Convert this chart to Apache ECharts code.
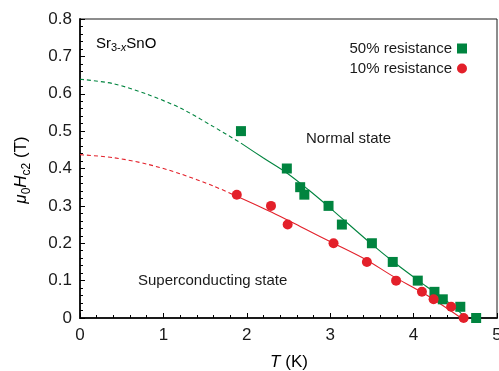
<!DOCTYPE html>
<html>
<head>
<meta charset="utf-8">
<script src="https://cdn.jsdelivr.net/npm/echarts@6/dist/echarts.min.js"></script>
<style>
html,body{margin:0;padding:0;background:#fff;}
#c{width:499px;height:371px;}
</style>
</head>
<body>
<div id="c"></div>
<script>
// Measured data (T in K, mu0Hc2 in T)
const T50 = [1.93, 2.48, 2.64, 2.69, 2.98, 3.14, 3.50, 3.75, 4.05, 4.25, 4.35, 4.56, 4.75];
const H50 = [0.50, 0.40, 0.35, 0.33, 0.30, 0.25, 0.20, 0.15, 0.10, 0.07, 0.05, 0.03, 0.00];
const T10 = [1.88, 2.29, 2.49, 3.04, 3.44, 3.79, 4.10, 4.24, 4.45, 4.60];
const H10 = [0.33, 0.30, 0.25, 0.20, 0.15, 0.10, 0.07, 0.05, 0.03, 0.00];

// Fit curves
const fit50DashT = [0, 0.4, 0.8, 1.2, 1.6, 1.93];
const fit50DashH = [0.639, 0.627, 0.599, 0.562, 0.512, 0.468];
const fit50SolidT = [1.93, 2.2, 2.48, 2.75, 3.0, 3.49, 3.8, 4.15, 4.4, 4.63];
const fit50SolidH = [0.468, 0.428, 0.388, 0.341, 0.294, 0.199, 0.143, 0.085, 0.045, 0.0];
const fit10DashT = [0, 0.4, 0.8, 1.2, 1.6, 1.88];
const fit10DashH = [0.437, 0.429, 0.412, 0.386, 0.353, 0.326];
const fit10SolidT = [1.88, 2.3, 2.7, 3.04, 3.43, 3.75, 4.15, 4.57];
const fit10SolidH = [0.326, 0.283, 0.238, 0.200, 0.156, 0.112, 0.062, 0.0];

const xTicks = [0, 1, 2, 3, 4, 5];
const yTicks = [0, 0.1, 0.2, 0.3, 0.4, 0.5, 0.6, 0.7, 0.8];

const zip = (a, b) => a.map((v, i) => [v, b[i]]);
const GREEN = '#00843F';
const RED = '#E3202A';
const FONT = 'Liberation Sans';
const TXT = '#1a1a1a';

const chart = echarts.init(document.getElementById('c'));

const lineCommon = () => ({type: 'line', smooth: 0.3, symbol: 'none', silent: true});

chart.setOption({
  animation: false,
  backgroundColor: '#fff',
  grid: {left: 80, right: 2, top: 19, bottom: 53, outerBoundsMode: 'none',
         show: true, borderColor: TXT, borderWidth: 1, backgroundColor: 'transparent'},
  xAxis: {
    type: 'value', min: xTicks[0], max: xTicks[xTicks.length - 1], interval: 1,
    axisLine: {show: true, lineStyle: {color: TXT, width: 2}},
    axisTick: {show: true, inside: true, length: 5, lineStyle: {color: '#000', width: 1}},
    minorTick: {show: true, splitNumber: 5, length: 3, lineStyle: {color: '#000', width: 1}},
    splitLine: {show: false},
    axisLabel: {margin: 9, color: TXT, fontFamily: FONT, fontSize: 17}
  },
  yAxis: {
    type: 'value', min: yTicks[0], max: yTicks[yTicks.length - 1], interval: 0.1,
    axisLine: {show: true, lineStyle: {color: TXT, width: 2}},
    axisTick: {show: true, inside: true, length: 5, lineStyle: {color: '#000', width: 1}},
    minorTick: {show: true, splitNumber: 5, length: 3, lineStyle: {color: '#000', width: 1}},
    splitLine: {show: false},
    axisLabel: {margin: 8, color: TXT, fontFamily: FONT, fontSize: 17,
      formatter: v => (Math.abs(v) < 1e-9 ? '0' : v.toFixed(1))}
  },
  legend: {
    data: ['50% resistance', '10% resistance'],
    orient: 'vertical',
    align: 'right',
    right: 27,
    top: 36,
    itemWidth: 10,
    itemHeight: 10,
    itemGap: 5,
    textStyle: {fontFamily: FONT, fontSize: 15, color: TXT}
  },
  series: [
    Object.assign(lineCommon(), {data: zip(fit50DashT, fit50DashH),
     lineStyle: {color: GREEN, width: 1.1, type: [4, 3]}}),
    Object.assign(lineCommon(), {data: zip(fit50SolidT, fit50SolidH),
     lineStyle: {color: GREEN, width: 1.1}}),
    Object.assign(lineCommon(), {data: zip(fit10DashT, fit10DashH),
     lineStyle: {color: RED, width: 1.1, type: [4, 3]}}),
    Object.assign(lineCommon(), {data: zip(fit10SolidT, fit10SolidH),
     lineStyle: {color: RED, width: 1.1}}),
    {name: '50% resistance', type: 'scatter', data: zip(T50, H50), symbol: 'rect', symbolSize: 10,
     itemStyle: {color: GREEN, opacity: 1}, z: 5},
    {name: '10% resistance', type: 'scatter', data: zip(T10, H10), symbol: 'circle', symbolSize: 10,
     itemStyle: {color: RED, opacity: 1}, z: 5}
  ],
  graphic: [
    {type: 'text', left: 96, top: 36, style: {
      text: '{n|Sr}{s|3-}{si|x}{n|SnO}',
      rich: {
        n: {fontFamily: FONT, fontSize: 15, color: TXT, lineHeight: 20},
        s: {fontFamily: FONT, fontSize: 11, color: TXT, lineHeight: 11, verticalAlign: 'bottom'},
        si: {fontFamily: FONT, fontSize: 11, fontStyle: 'italic', color: TXT, lineHeight: 11, verticalAlign: 'bottom'}
      }}},
    {type: 'text', left: 306, top: 131, style: {text: 'Normal state', fontFamily: FONT, fontSize: 15, fill: TXT}},
    {type: 'text', left: 138, top: 273, style: {text: 'Superconducting state', fontFamily: FONT, fontSize: 15, fill: TXT}},
    {type: 'text', x: 289, y: 362, style: {
      text: '{i|T}{n| (K)}', align: 'center', verticalAlign: 'middle',
      rich: {
        i: {fontFamily: FONT, fontSize: 17, fontStyle: 'italic', color: TXT},
        n: {fontFamily: FONT, fontSize: 17, color: TXT}
      }}},
    {type: 'text', x: 21, y: 170, rotation: Math.PI / 2, style: {
      text: '{i|μ}{s|0}{i|H}{s|c2}{n| (T)}', align: 'center', verticalAlign: 'middle',
      rich: {
        i: {fontFamily: FONT, fontSize: 17, fontStyle: 'italic', color: TXT, lineHeight: 24},
        n: {fontFamily: FONT, fontSize: 17, color: TXT, lineHeight: 24},
        s: {fontFamily: FONT, fontSize: 12, color: TXT, lineHeight: 12, verticalAlign: 'bottom'}
      }}}
  ]
});
</script>
</body>
</html>
